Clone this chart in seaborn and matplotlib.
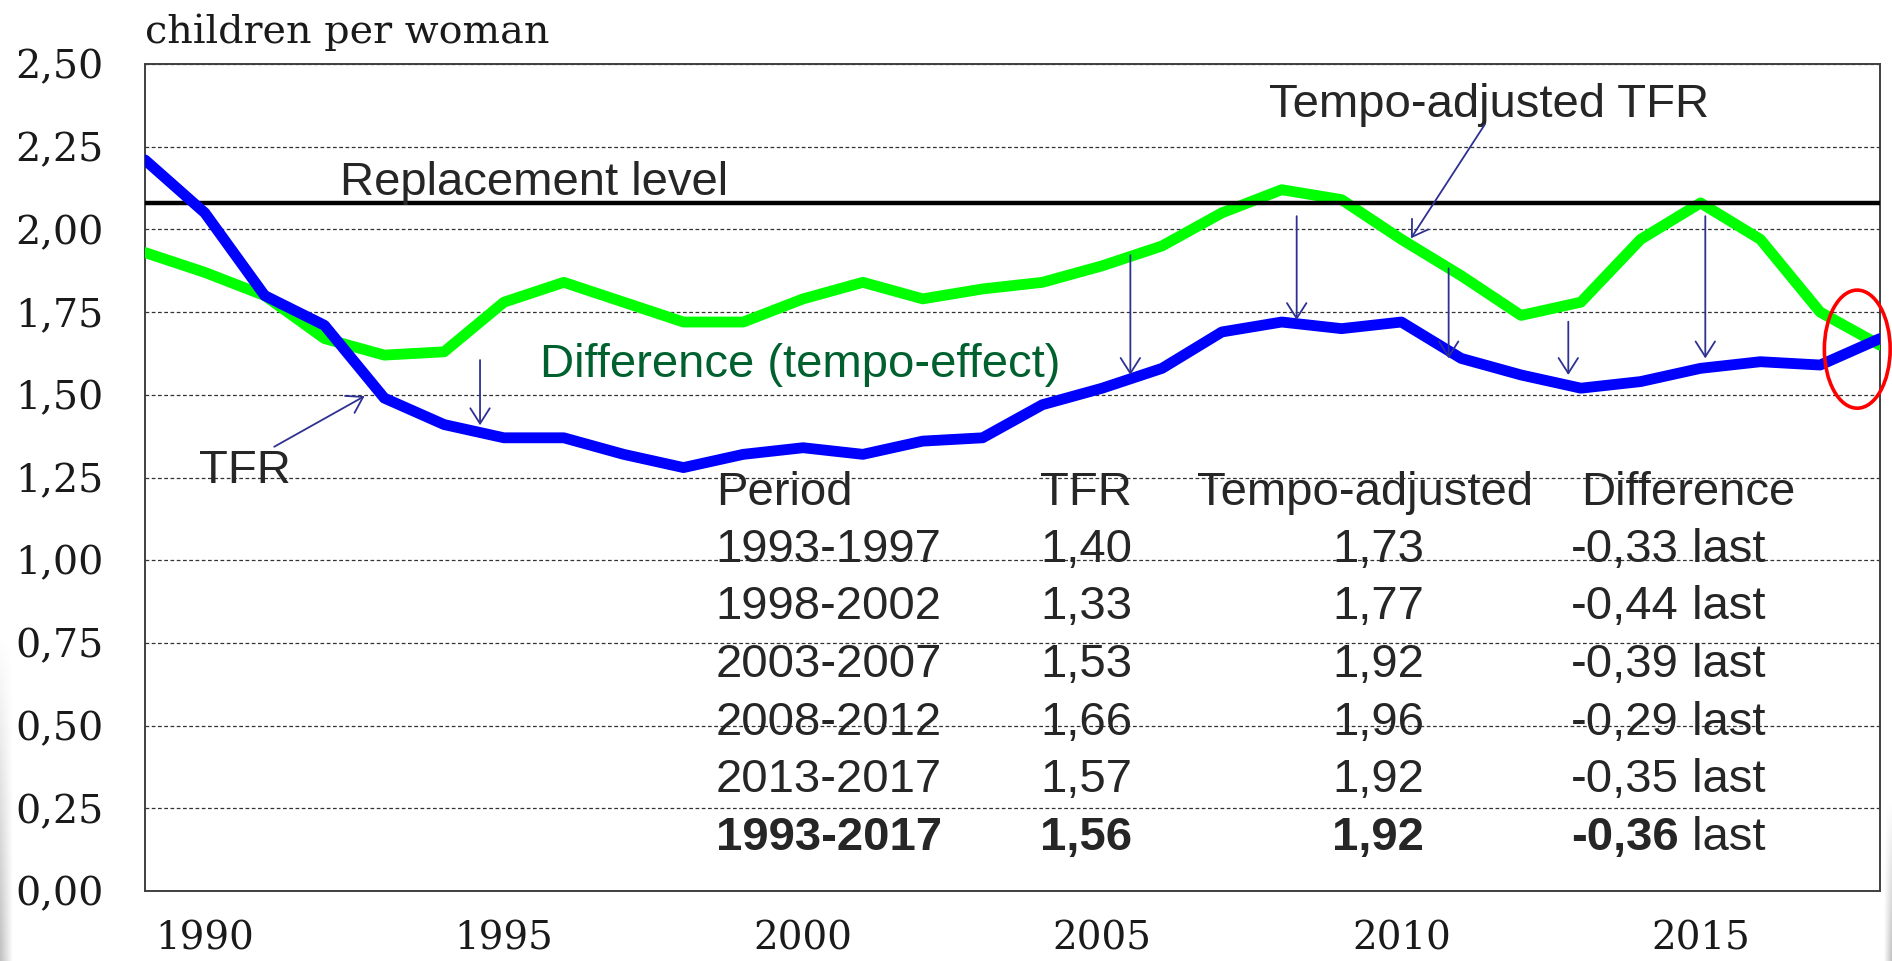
import numpy as np
import matplotlib
matplotlib.use("Agg")
import matplotlib.pyplot as plt
from matplotlib.patches import Ellipse
import seaborn as sns

# --- data ---
years = list(range(1989, 2019))
tfr = [2.21, 2.05, 1.80, 1.71, 1.49, 1.41, 1.37, 1.37, 1.32, 1.28,
       1.32, 1.34, 1.32, 1.36, 1.37, 1.47, 1.52, 1.58, 1.69, 1.72,
       1.70, 1.72, 1.61, 1.56, 1.52, 1.54, 1.58, 1.60, 1.59, 1.67]
tempo_adj = [1.93, 1.87, 1.80, 1.67, 1.62, 1.63, 1.78, 1.84, 1.78, 1.72,
             1.72, 1.79, 1.84, 1.79, 1.82, 1.84, 1.89, 1.95, 2.05, 2.12,
             2.09, 1.97, 1.86, 1.74, 1.78, 1.97, 2.08, 1.97, 1.75, 1.65]
replacement = 2.08

y_ticks = [0.0, 0.25, 0.5, 0.75, 1.0, 1.25, 1.5, 1.75, 2.0, 2.25, 2.5]
x_ticks = list(range(1990, 2018))
x_labels = [str(y) if y % 5 == 0 else "" for y in x_ticks]

headers = ["Period", "TFR", "Tempo-adjusted", "Difference"]
periods = ["1993-1997", "1998-2002", "2003-2007", "2008-2012", "2013-2017", "1993-2017"]
tfr_avg = ["1,40", "1,33", "1,53", "1,66", "1,57", "1,56"]
adj_avg = ["1,73", "1,77", "1,92", "1,96", "1,92", "1,92"]
diff_avg = ["-0,33", "-0,44", "-0,39", "-0,29", "-0,35", "-0,36"]

# arrows: (tail, tip) in data coords
arrows = [((1994.60, 1.605), (1994.60, 1.408)),
          ((2005.47, 1.922), (2005.47, 1.560)),
          ((2008.25, 2.040), (2008.25, 1.726)),
          ((2010.79, 1.882), (2010.79, 1.610)),
          ((2012.79, 1.721), (2012.79, 1.560)),
          ((2015.08, 2.040), (2015.08, 1.610)),
          ((2011.39, 2.316), (2010.16, 1.973)),
          ((1991.16, 1.343), (1992.67, 1.496))]

sns.set_style("white")
plt.rcParams["font.family"] = ["Liberation Sans", "DejaVu Sans"]

W, H = 1892, 961
fig = plt.figure(figsize=(W / 100, H / 100), dpi=100)
ax = fig.add_axes([145 / W, (H - 891) / H, (1880 - 145) / W, (891 - 64) / H])

sns.lineplot(x=years, y=tempo_adj, color="#00FF00", lw=7.8, ax=ax, zorder=3)
ax.axhline(replacement, color="black", lw=3.2, zorder=4)
sns.lineplot(x=years, y=tfr, color="#0000FF", lw=7.8, ax=ax, zorder=5)

ax.set_xlim(1989, 2018)
ax.set_ylim(0, 2.5)
ax.set_xlabel("")
ax.set_ylabel("")

serif = "DejaVu Serif"
ax.set_yticks(y_ticks)
ax.set_yticklabels([f"{v:.2f}".replace(".", ",") for v in y_ticks],
                   fontfamily=serif, fontsize=28.5, color="#1a1a1a")
ax.set_xticks(x_ticks)
ax.set_xticklabels(x_labels, fontfamily=serif, fontsize=28, color="#1a1a1a")
ax.tick_params(axis="y", length=0, pad=30)
ax.tick_params(axis="x", direction="in", length=14.5, width=1.1,
               color="#333333", pad=21)

ax.yaxis.grid(True, color="#333333", lw=0.9, linestyle=(0, (3, 2)))
ax.xaxis.grid(False)
for s in ax.spines.values():
    s.set_visible(True)
    s.set_color("#404040")
    s.set_linewidth(1.4)

fig.text(145 / W, 1 - 43 / H, "children per woman", fontfamily=serif,
         fontsize=28.5, color="#1a1a1a", va="baseline", ha="left")

# labels on the chart
fs = 34
ax.text(1992.26, 2.104, "Replacement level", fontsize=fs, va="baseline", zorder=6)
ax.text(2007.78, 2.341, "Tempo-adjusted TFR", fontsize=fs, va="baseline", zorder=6)
ax.text(1995.60, 1.554, "Difference (tempo-effect)", fontsize=fs,
        color="#00612F", va="baseline", zorder=6)
ax.text(1989.90, 1.232, "TFR", fontsize=fs, va="baseline", zorder=6)

for tail, tip in arrows:
    ax.annotate("", xy=tip, xytext=tail,
                arrowprops=dict(arrowstyle="->,head_length=1.1,head_width=0.7",
                                mutation_scale=10, lw=1.3, color="#2E3192",
                                shrinkA=0, shrinkB=0), zorder=6)

# table
head_y = 1.167
step = 0.1745
head_x = [1998.54, 2003.96, 2006.58, 2013.0]
col_x = [1998.54, 2003.96, 2008.84, 2012.84]
for hx, h in zip(head_x, headers):
    ax.text(hx, head_y, h, fontsize=fs, va="baseline", zorder=6)
for i, (p, t, a, d) in enumerate(zip(periods, tfr_avg, adj_avg, diff_avg)):
    yy = head_y - 0.171 - i * step
    bold = i == len(periods) - 1
    fw = "bold" if bold else "normal"
    ax.text(col_x[0], yy, p, fontsize=fs, fontweight=fw, va="baseline", zorder=6)
    ax.text(col_x[1], yy, t, fontsize=fs, fontweight=fw, va="baseline", zorder=6)
    ax.text(col_x[2], yy, a, fontsize=fs, fontweight=fw, va="baseline", zorder=6)
    dt = ax.text(col_x[3], yy, d, fontsize=fs, fontweight=fw, va="baseline", zorder=6)
    ax.annotate(" last", xy=(1, 0), xycoords=dt, xytext=(0, 0),
                textcoords="offset points", fontsize=fs, va="bottom",
                ha="left", zorder=6)

ax.add_patch(Ellipse((2017.62, 1.638), 1.1, 0.357, fill=False,
                     edgecolor="#FF0000", lw=2.6, clip_on=False, zorder=7))

# slide shadow at the bottom corners
grad = np.linspace(0, 1, 64)
shade = 1 - 0.25 * np.outer(grad, 1 - grad)
sh = fig.add_axes([0, 0, 12 / W, 330 / H])
sh.imshow(shade, cmap="gray", vmin=0, vmax=1, aspect="auto")
sh.axis("off")
sh2 = fig.add_axes([1 - 8 / W, 0, 8 / W, 160 / H])
sh2.imshow(shade[:, ::-1], cmap="gray", vmin=0, vmax=1, aspect="auto")
sh2.axis("off")

fig.savefig("out.png", dpi=100)
